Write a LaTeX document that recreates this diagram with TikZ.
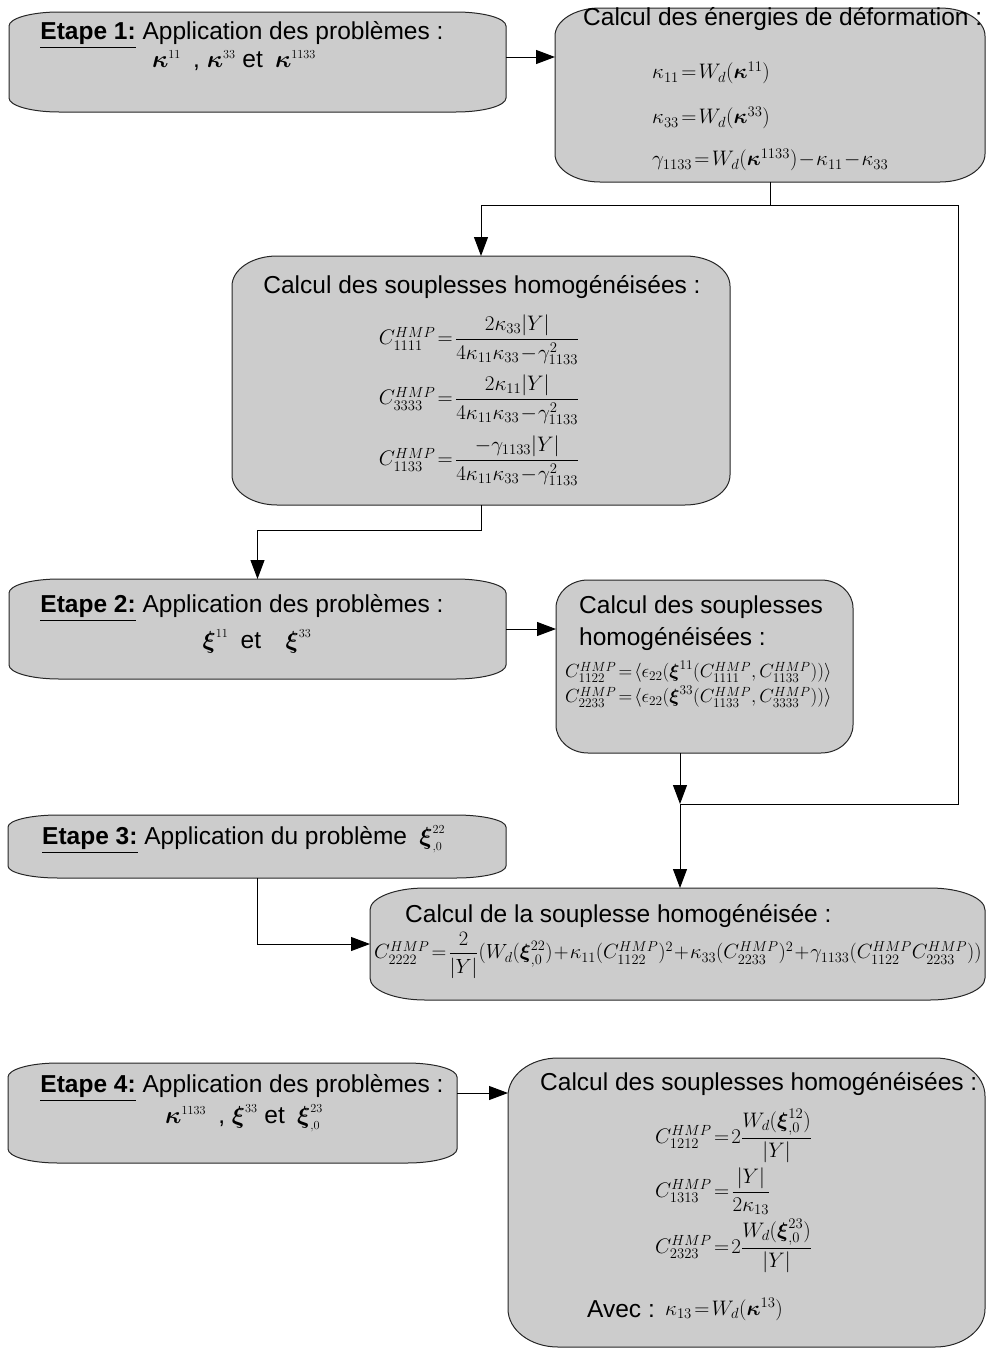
\RequirePackage{fix-cm}
\documentclass[tikz,border=0pt]{standalone}
\usepackage{amsmath}
\usepackage{amssymb}
\usepackage[no-math]{fontspec}
\setmainfont{Liberation Sans}
\usetikzlibrary{arrows.meta, calc}

% tight spacing round = + - as in the original formulas
\thickmuskip=2mu plus 1mu
\medmuskip=1mu

% grey box with wide (elliptic) corners drawn round an empty node
\newcommand{\stageframe}[3]{%
  \draw[frame] ($(#1.north west)+(#2,0pt)$) -- ($(#1.north east)+(-#2,0pt)$)
    arc[start angle=90, end angle=0, x radius=#2, y radius=#3]
    -- ($(#1.south east)+(0pt,#3)$)
    arc[start angle=0, end angle=-90, x radius=#2, y radius=#3]
    -- ($(#1.south west)+(#2,0pt)$)
    arc[start angle=270, end angle=180, x radius=#2, y radius=#3]
    -- ($(#1.north west)+(0pt,-#3)$)
    arc[start angle=180, end angle=90, x radius=#2, y radius=#3]
    -- cycle;}
\newcommand{\sss}{\scriptscriptstyle}

\begin{document}
\begin{tikzpicture}[x=1pt, y=-1pt,
    font=\fontsize{24.5}{29}\selectfont,
    stage/.style n args={2}{rectangle, inner sep=0pt, outer sep=0pt,
                minimum width=#1, minimum height=#2},
    frame/.style={draw=black!85, fill=black!20, line width=1pt},
    line/.style={inner sep=0pt},
    eqn/.style={inner sep=0pt, font=\fontsize{21}{25}\selectfont},
    eqnsmall/.style={inner sep=0pt, font=\fontsize{19}{22}\selectfont},
    eqnwide/.style={inner sep=0pt, font=\fontsize{20.5}{24}\selectfont},
    arr/.style={-{Triangle[length=19pt, width=14pt]}, line width=1pt},
    link/.style={line width=1pt}
  ]

  \useasboundingbox (0,0) rectangle (986,1349);

  %% ---- boxes ----
  \node[stage={497pt}{100pt}] (step1)  at (257.5,62)    {};
  \node[stage={430pt}{174pt}] (energy) at (770,95)      {};
  \node[stage={498pt}{249pt}] (compl1) at (481,380.5)   {};
  \node[stage={497pt}{100pt}] (step2)  at (257.5,629)   {};
  \node[stage={297pt}{173pt}] (compl2) at (704.5,666.5) {};
  \node[stage={498pt}{63pt}]  (step3)  at (257,846.5)   {};
  \node[stage={615pt}{112pt}] (compl3) at (677.5,944)   {};
  \node[stage={449pt}{100pt}] (step4)  at (232.5,1113)  {};
  \node[stage={477pt}{289pt}] (compl4) at (746.5,1202.5){};

  \stageframe{step1}{50pt}{14pt}
  \stageframe{energy}{45pt}{28pt}
  \stageframe{compl1}{45pt}{30pt}
  \stageframe{step2}{50pt}{14pt}
  \stageframe{compl2}{32pt}{28pt}
  \stageframe{step3}{50pt}{12pt}
  \stageframe{compl3}{55pt}{22pt}
  \stageframe{step4}{50pt}{14pt}
  \stageframe{compl4}{50pt}{38pt}

  %% ---- Etape 1 ----
  \node[line, anchor=base] (step1a) at (242,39)
    {\underline{\textbf{Etape 1:}} Application des problèmes :};
  \node[line, anchor=base] (step1b) at (234,67)
    {$\boldsymbol{\kappa}^{\sss 11}$\enspace, $\boldsymbol{\kappa}^{\sss 33}$ et\enspace$\boldsymbol{\kappa}^{\sss 1133}$};

  %% ---- energies ----
  \node[line, anchor=base west] (energyT) at (583,25) {Calcul des énergies de déformation :};
  \node[eqn, anchor=west] (kap11) at (652,73)  {$\kappa_{11}=W_d(\boldsymbol{\kappa}^{11})$};
  \node[eqn, anchor=west] (kap33) at (652,118) {$\kappa_{33}=W_d(\boldsymbol{\kappa}^{33})$};
  \node[eqn, anchor=west] (gam)   at (652,160)
    {$\gamma_{1133}=W_d(\boldsymbol{\kappa}^{1133})-\kappa_{11}-\kappa_{33}$};

  %% ---- souplesses 1 ----
  \node[line, anchor=base] (compl1T) at (482,293) {Calcul des souplesses homogénéisées :};
  \node[eqn] (c1111) at (479,340)
    {$C^{HMP}_{1111}=\dfrac{2\kappa_{33}|Y|}{4\kappa_{11}\kappa_{33}-\gamma^{2}_{1133}}$};
  \node[eqn] (c3333) at (479,400)
    {$C^{HMP}_{3333}=\dfrac{2\kappa_{11}|Y|}{4\kappa_{11}\kappa_{33}-\gamma^{2}_{1133}}$};
  \node[eqn] (c1133) at (479,461)
    {$C^{HMP}_{1133}=\dfrac{-\gamma_{1133}|Y|}{4\kappa_{11}\kappa_{33}-\gamma^{2}_{1133}}$};

  %% ---- Etape 2 ----
  \node[line, anchor=base] (step2a) at (242,612)
    {\underline{\textbf{Etape 2:}} Application des problèmes :};
  \node[line, anchor=base] (step2b) at (257,648)
    {$\boldsymbol{\xi}^{\sss 11}$\enspace et\quad$\boldsymbol{\xi}^{\sss 33}$};

  %% ---- souplesses 2 ----
  \node[line, anchor=base west] (compl2a) at (579,613) {Calcul des souplesses};
  \node[line, anchor=base west] (compl2b) at (579,645) {homogénéisées :};
  \node[eqnsmall, anchor=west] (c1122) at (565,672)
    {$C^{HMP}_{1122}=\langle\epsilon_{22}(\boldsymbol{\xi}^{11}(C^{HMP}_{1111},C^{HMP}_{1133}))\rangle$};
  \node[eqnsmall, anchor=west] (c2233) at (565,697)
    {$C^{HMP}_{2233}=\langle\epsilon_{22}(\boldsymbol{\xi}^{33}(C^{HMP}_{1133},C^{HMP}_{3333}))\rangle$};

  %% ---- Etape 3 ----
  \node[line, anchor=base west] (step3a) at (42,844)
    {\underline{\textbf{Etape 3:}} Application du problème\enspace$\boldsymbol{\xi}^{\sss 22}_{\sss ,0}$};

  %% ---- souplesse 3 ----
  \node[line, anchor=base west] (compl3T) at (405,922) {Calcul de la souplesse homogénéisée :};
  \node[eqnwide, anchor=west] (c2222) at (374,955)
    {$C^{HMP}_{2222}=\dfrac{2}{|Y|}(W_d(\boldsymbol{\xi}^{22}_{,0})+\kappa_{11}(C^{HMP}_{1122})^2+\kappa_{33}(C^{HMP}_{2233})^2+\gamma_{1133}(C^{HMP}_{1122}C^{HMP}_{2233}))$};

  %% ---- Etape 4 ----
  \node[line, anchor=base] (step4a) at (242,1092)
    {\underline{\textbf{Etape 4:}} Application des problèmes :};
  \node[line, anchor=base] (step4b) at (244,1123)
    {$\boldsymbol{\kappa}^{\sss 1133}$\enspace, $\boldsymbol{\xi}^{\sss 33}$ et\enspace$\boldsymbol{\xi}^{\sss 23}_{\sss ,0}$};

  %% ---- souplesses 4 ----
  \node[line, anchor=base west] (compl4T) at (540,1090) {Calcul des souplesses homogénéisées :};
  \node[eqn, anchor=west] (c1212) at (655,1136)
    {$C^{HMP}_{1212}=2\dfrac{W_d(\boldsymbol{\xi}^{12}_{,0})}{|Y|}$};
  \node[eqn, anchor=west] (c1313) at (655,1191)
    {$C^{HMP}_{1313}=\dfrac{|Y|}{2\kappa_{13}}$};
  \node[eqn, anchor=west] (c2323) at (655,1246)
    {$C^{HMP}_{2323}=2\dfrac{W_d(\boldsymbol{\xi}^{23}_{,0})}{|Y|}$};
  \node[line, anchor=base west] (avec) at (587,1317) {Avec :};
  \node[eqn, anchor=base west] (kap13) at (665,1315)
    {$\kappa_{13}=W_d(\boldsymbol{\kappa}^{13})$};

  %% ---- connectors ----
  \path (energy.south) ++(0,23) coordinate (fork);
  \coordinate (railtop) at (958,205);
  \coordinate (join) at (680,804);

  \draw[arr] ([yshift=5pt]step1.east) -- ([yshift=5pt]step1.east -| energy.west);
  \draw[arr] (energy.south) -- (fork) -| (compl1.north);
  \draw[link] (fork) -- (railtop) |- (join);
  \draw[arr] (compl1.south) -- ++(0,25) -| (step2.north);
  \draw[arr] (step2.east) -- (step2.east -| compl2.west);
  \draw[arr] (compl2.south -| join) -- (join);
  \draw[arr] (join) -- (join |- compl3.north);
  \draw[arr] (step3.south) |- (compl3.west);
  \draw[arr] ([yshift=20pt]step4.east) -- ([yshift=20pt]step4.east -| compl4.west);

\end{tikzpicture}
\end{document}
